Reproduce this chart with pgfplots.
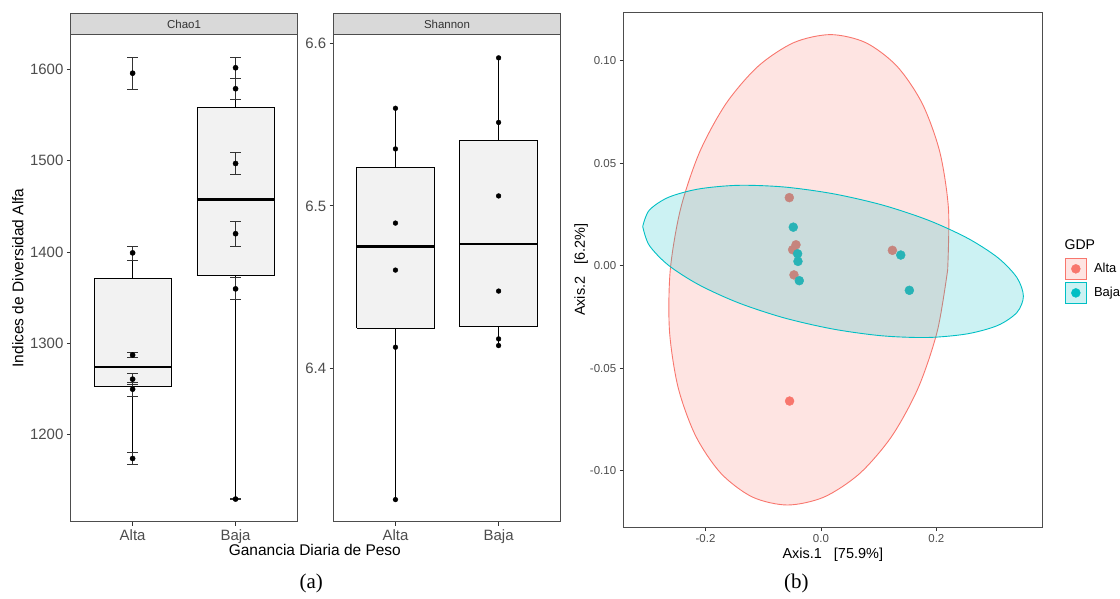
\documentclass[border=0pt]{standalone}
\usepackage{fontspec}
\setmainfont{Liberation Sans}
\newfontfamily\serifa{Liberation Serif}
\usepackage{pgfplots}
\pgfplotsset{compat=1.18}
\definecolor{alta}{HTML}{F8766D}
\definecolor{baja}{HTML}{00BFC4}
\definecolor{altamix}{RGB}{198,133,126}
\definecolor{bajamix}{RGB}{40,179,182}
\definecolor{g95}{HTML}{F2F2F2}
\definecolor{g85}{HTML}{D9D9D9}
\definecolor{g30}{HTML}{4D4D4D}
\definecolor{g20}{HTML}{333333}
\pgfplotsset{
  panel/.style={scale only axis, anchor=south west, tick align=outside,
    major tick length=4bp, xtick pos=bottom, ytick pos=left,
    tick style={g20, line width=0.8bp},
    axis line style={g30, line width=0.9bp},
    tick label style={font=\fontsize{15bp}{18bp}\selectfont, text=g30},
    /pgf/number format/assume math mode=true},
  strip/.style={title={#1}, every axis title shift=0pt,
    title style={at={(0.5,1)}, anchor=south, yshift=0pt, fill=g85, draw=g30,
      line width=0.7bp, minimum width=227bp, minimum height=21bp, inner sep=0pt,
      font=\fontsize{11.5bp}{13bp}\selectfont, text=g20}},
  boxs/.style={black, line width=0.9bp, fill=g95},
  med/.style={black, line width=2.4bp},
  whk/.style={black, line width=1.1bp},
}
\begin{document}
\begin{tikzpicture}
% ---------- Chao1 ----------
\begin{axis}[panel, strip={Chao1}, at={(71bp,77bp)}, width=227bp, height=488bp,
  xmin=0.4, xmax=2.6, ymin=1104, ymax=1638,
  xtick={1,2}, xticklabels={Alta,Baja},
  ytick={1200,1300,1400,1500,1600}, yticklabels={1200,1300,1400,1500,1600}]
% whiskers
\addplot[whk] coordinates {(1,1174) (1,1252)};
\addplot[whk] coordinates {(1,1371) (1,1399)};
\addplot[whk] coordinates {(2,1129) (2,1374)};
\addplot[whk] coordinates {(2,1558.4) (2,1602)};
% boxes
\addplot[boxs] coordinates {(0.625,1252) (1.375,1252) (1.375,1371) (0.625,1371) (0.625,1252)};
\addplot[boxs] coordinates {(1.625,1374) (2.375,1374) (2.375,1558.4) (1.625,1558.4) (1.625,1374)};
\addplot[med] coordinates {(0.625,1274) (1.375,1274)};
\addplot[med] coordinates {(1.625,1457.6) (2.375,1457.6)};
% error bars (segments and caps)
\addplot[g20, line width=1bp, unbounded coords=jump] coordinates {
  (1,1578) (1,1613.5) (1,nan) (0.95,1613.5) (1.05,1613.5) (1,nan) (0.95,1578) (1.05,1578) (1,nan)
  (1,1391) (1,1406) (1,nan) (0.95,1406) (1.05,1406) (1,nan) (0.95,1391) (1.05,1391) (1,nan)
  (1,1284.5) (1,1289.5) (1,nan) (0.95,1289.5) (1.05,1289.5) (1,nan) (0.95,1284.5) (1.05,1284.5) (1,nan)
  (1,1255) (1,1267) (1,nan) (0.95,1267) (1.05,1267) (1,nan) (0.95,1255) (1.05,1255) (1,nan)
  (1,1242) (1,1257) (1,nan) (0.95,1257) (1.05,1257) (1,nan) (0.95,1242) (1.05,1242) (1,nan)
  (1,1166.7) (1,1180.5) (1,nan) (0.95,1180.5) (1.05,1180.5) (1,nan) (0.95,1166.7) (1.05,1166.7) (1,nan)
  (2,1590) (2,1613.5) (2,nan) (1.95,1613.5) (2.05,1613.5) (2,nan) (1.95,1590) (2.05,1590) (2,nan)
  (2,1567) (2,1590) (2,nan) (1.95,1567) (2.05,1567) (2,nan)
  (2,1484.5) (2,1509.5) (2,nan) (1.95,1509.5) (2.05,1509.5) (2,nan) (1.95,1484.5) (2.05,1484.5) (2,nan)
  (2,1406) (2,1433) (2,nan) (1.95,1433) (2.05,1433) (2,nan) (1.95,1406) (2.05,1406) (2,nan)
  (2,1348) (2,1371.5) (2,nan) (1.95,1371.5) (2.05,1371.5) (2,nan) (1.95,1348) (2.05,1348) (2,nan)
  (2,1128) (2,1130) (2,nan) (1.95,1130) (2.05,1130) (2,nan) (1.95,1128) (2.05,1128)
  };
\addplot[only marks, mark=*, mark size=2.6bp, black] coordinates {
  (1,1596) (1,1399) (1,1287) (1,1260.5) (1,1249.5) (1,1173.5)
  (2,1602) (2,1579) (2,1497) (2,1420) (2,1359.5) (2,1129)};
\end{axis}
% ---------- Shannon ----------
\begin{axis}[panel, strip={Shannon}, at={(334.3bp,77bp)}, width=227.4bp, height=488bp,
  xmin=0.4, xmax=2.6, ymin=6.3057, ymax=6.6051,
  xtick={1,2}, xticklabels={Alta,Baja},
  ytick={6.4,6.5,6.6}, yticklabels={6.4,6.5,6.6}]
\addplot[whk, line width=1.6bp] coordinates {(1,6.3194) (1,6.4249)};
\addplot[whk, line width=1.6bp] coordinates {(1,6.5237) (1,6.5600)};
\addplot[whk, line width=1.3bp] coordinates {(2,6.4141) (2,6.4258)};
\addplot[whk, line width=1.3bp] coordinates {(2,6.5401) (2,6.5910)};
\addplot[boxs] coordinates {(0.625,6.4249) (1.375,6.4249) (1.375,6.5237) (0.625,6.5237) (0.625,6.4249)};
\addplot[boxs] coordinates {(1.625,6.4258) (2.375,6.4258) (2.375,6.5401) (1.625,6.5401) (1.625,6.4258)};
\addplot[med] coordinates {(0.625,6.475) (1.375,6.475)};
\addplot[med] coordinates {(1.625,6.4765) (2.375,6.4765)};
\addplot[only marks, mark=*, mark size=2.4bp, black] coordinates {
  (1,6.5600) (1,6.5350) (1,6.4894) (1,6.4605) (1,6.4131) (1,6.3194)
  (2,6.5910) (2,6.5513) (2,6.5061) (2,6.4476) (2,6.4182) (2,6.4141)};
\end{axis}
% ---------- PCoA ----------
\begin{axis}[panel, at={(625bp,71.7bp)}, width=420bp, height=515.6bp,
  xmin=-0.3418, xmax=0.3843, ymin=-0.1275, ymax=0.1234,
  tick label style={font=\fontsize{11.5bp}{13bp}\selectfont, text=g30},
  xtick={-0.2,0,0.2}, xticklabels={-0.2,0.0,0.2},
  ytick={-0.1,-0.05,0,0.05,0.1}, yticklabels={-0.10,-0.05,0.00,0.05,0.10},
  legend style={at={(1.0517,0.5237)}, anchor=north west, draw=none, fill=none,
    inner sep=0pt, row sep=2.2bp, column sep=7bp,
    font=\fontsize{13bp}{15bp}\selectfont, nodes={inner sep=0pt}},
  legend cell align=left]
\addplot[smooth, draw=alta, line width=0.9bp, fill=alta, fill opacity=0.2, forget plot] coordinates {
  (0.2196,-0.0020) (0.2210,0.0277) (0.2060,0.0554) (0.1755,0.0791) (0.1317,0.0973)
  (0.0774,0.1088) (0.0165,0.1127) (-0.0470,0.1088) (-0.1087,0.0973) (-0.1643,0.0791)
  (-0.2102,0.0554) (-0.2432,0.0277) (-0.2610,-0.0020) (-0.2624,-0.0317) (-0.2474,-0.0594)
  (-0.2169,-0.0831) (-0.1731,-0.1013) (-0.1188,-0.1128) (-0.0579,-0.1167) (0.0056,-0.1128)
  (0.0673,-0.1013) (0.1229,-0.0831) (0.1688,-0.0594) (0.2018,-0.0317) (0.2196,-0.0020)};
\addplot[smooth, draw=baja, line width=0.9bp, fill=baja, fill opacity=0.2, forget plot] coordinates {
  (-0.3088,0.0191) (-0.2976,0.0270) (-0.2646,0.0333) (-0.2122,0.0374) (-0.1439,0.0392)
  (-0.0644,0.0384) (0.0210,0.0351) (0.1064,0.0296) (0.1859,0.0222) (0.2542,0.0134)
  (0.3066,0.0039) (0.3396,-0.0058) (0.3508,-0.0149) (0.3396,-0.0228) (0.3066,-0.0291)
  (0.2542,-0.0332) (0.1859,-0.0350) (0.1064,-0.0342) (0.0210,-0.0309) (-0.0644,-0.0254)
  (-0.1439,-0.0180) (-0.2122,-0.0092) (-0.2646,0.0003) (-0.2976,0.0100) (-0.3088,0.0191)};
% points (colours as seen through the ellipse fills)
\addplot[only marks, mark=*, mark size=4.5bp, altamix, forget plot] coordinates {
  (-0.0548,0.0332) (-0.0432,0.0102) (-0.0490,0.0078) (-0.0467,-0.0045) (0.1238,0.0075)};
\addplot[only marks, mark=*, mark size=4.5bp, alta, forget plot] coordinates {
  (-0.0543,-0.0660)};
\addplot[only marks, mark=*, mark size=4.5bp, bajamix, forget plot] coordinates {
  (-0.0479,0.0188) (-0.0404,0.0058) (-0.0398,0.0021) (-0.0375,-0.0073)
  (0.1383,0.0052) (0.1532,-0.0120)};
\addlegendimage{legend image code/.code={
  \draw[alta, line width=0.9bp, fill=alta!20] (0bp,-10.5bp) rectangle (21.6bp,10.5bp);
  \fill[alta] (10.8bp,0bp) circle (4.5bp);}}
\addlegendentry{Alta}
\addlegendimage{legend image code/.code={
  \draw[baja, line width=0.9bp, fill=baja!20] (0bp,-10.5bp) rectangle (21.6bp,10.5bp);
  \fill[baja] (10.8bp,0bp) circle (4.5bp);}}
\addlegendentry{Baja}
\end{axis}
% ---------- labels ----------
\node[rotate=90, font=\fontsize{15.5bp}{18bp}\selectfont] at (18bp,321.5bp) {Indices de Diversidad Alfa};
\node[font=\fontsize{15.5bp}{18bp}\selectfont] at (315.5bp,49bp) {Ganancia Diaria de Peso};
\node[anchor=west, inner sep=0pt, font=\fontsize{14.5bp}{17bp}\selectfont] at (784bp,44bp) {Axis.1\ \ \ [75.9\%]};
\node[rotate=90, font=\fontsize{14.5bp}{17bp}\selectfont] at (582.5bp,329.7bp) {Axis.2\ \ \ [6.2\%]};
\node[anchor=west, inner sep=0pt, font=\fontsize{14.1bp}{17bp}\selectfont] at (1066.7bp,355bp) {GDP};
\node[font=\serifa\fontsize{21bp}{24bp}\selectfont] at (312bp,15bp) {(a)};
\node[font=\serifa\fontsize{21bp}{24bp}\selectfont] at (798bp,15bp) {(b)};
\path (0,0) rectangle (1120bp,600bp);
\end{tikzpicture}
\end{document}
